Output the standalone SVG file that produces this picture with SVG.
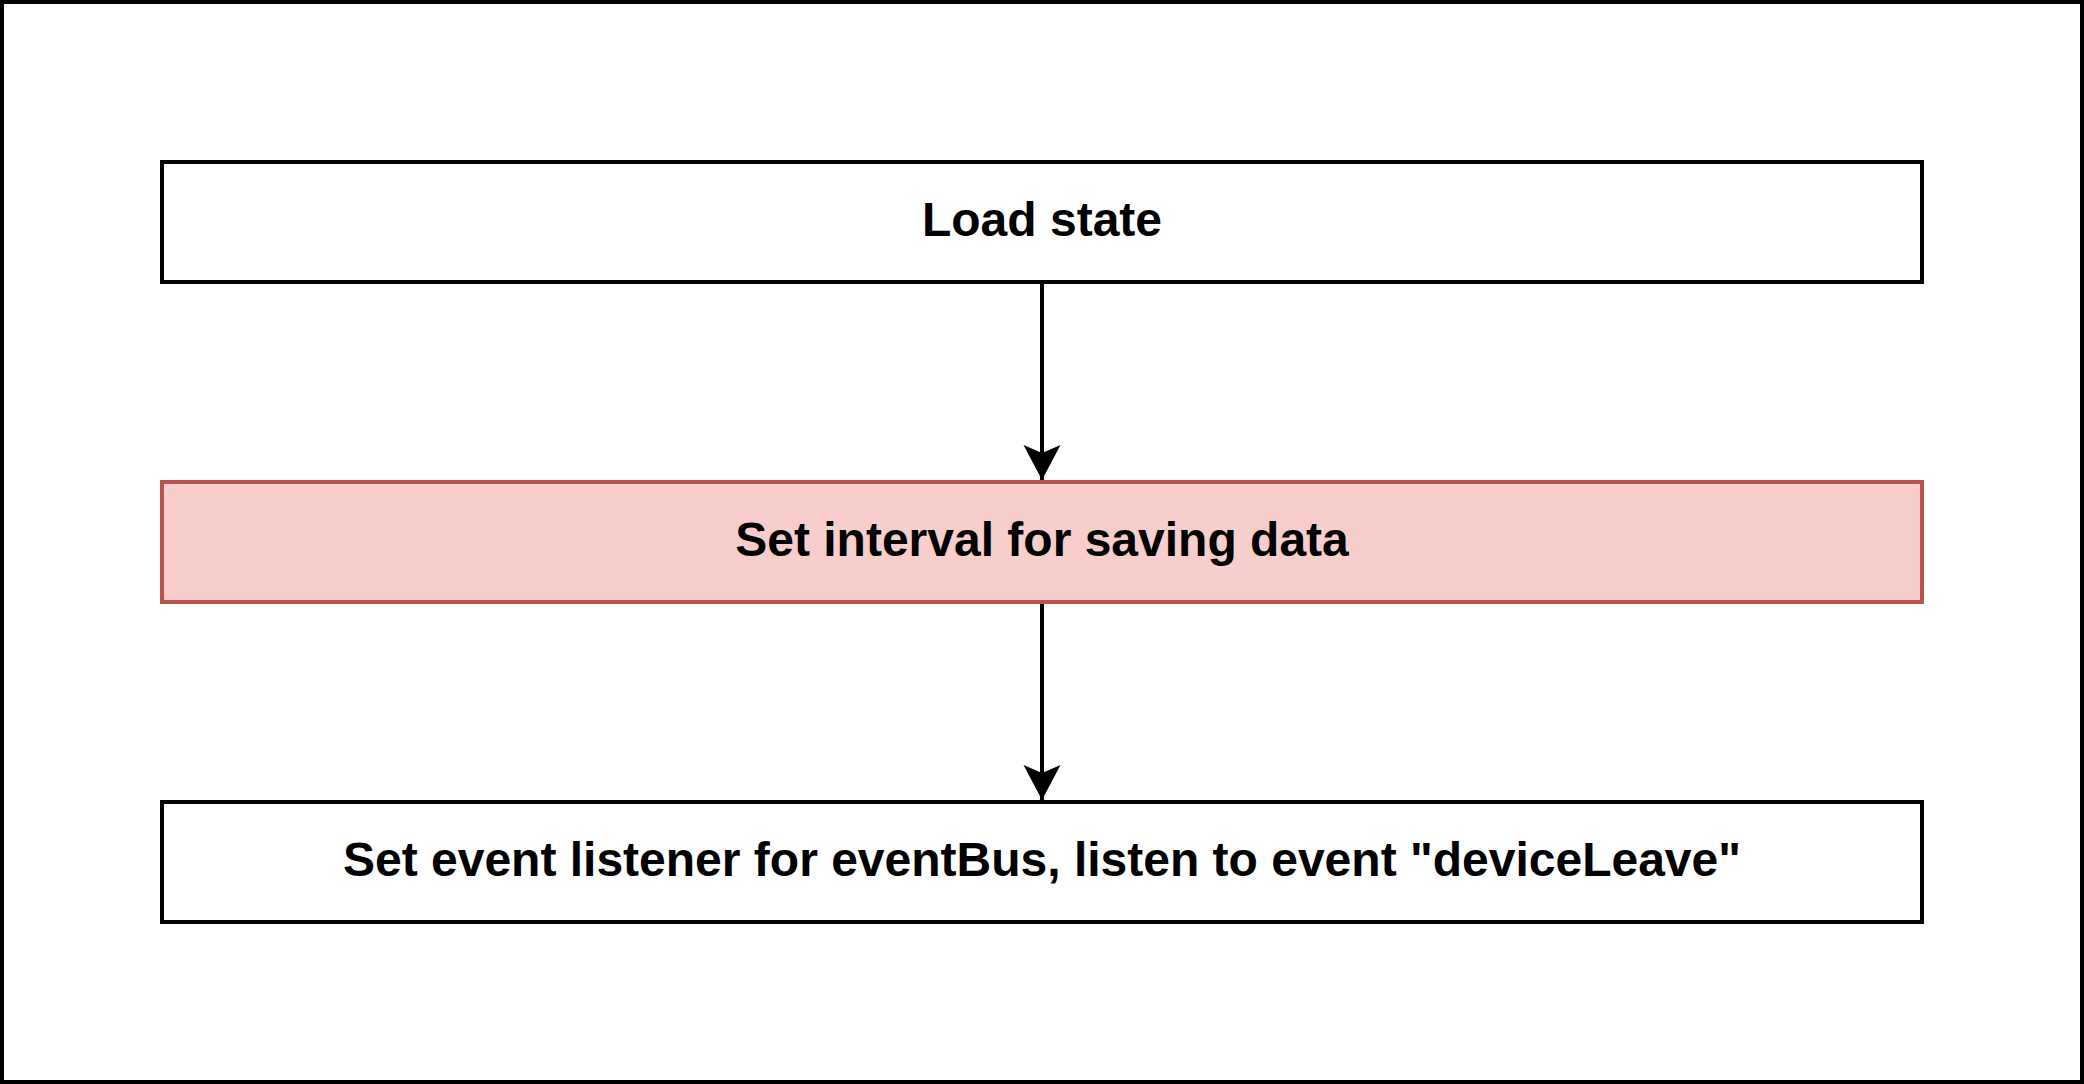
<svg xmlns="http://www.w3.org/2000/svg" width="2084" height="1084" viewBox="0 0 2084 1084">
<defs>
<style>
.box{fill:#ffffff;stroke:#000000;stroke-width:4}
.pink{fill:#f8cecc;stroke:#b85450;stroke-width:4}
.lbl{font-family:"Liberation Sans",Arial,sans-serif;font-weight:bold;font-size:48px;fill:#000000;text-anchor:middle}
.edge{stroke:#000000;stroke-width:4;fill:none}
</style>
<marker id="arr" markerUnits="userSpaceOnUse" markerWidth="40" markerHeight="40" viewBox="0 0 40 40" refX="36" refY="20" orient="auto">
<path d="M36,20 L1,1.5 L9,20 L1,38.5 Z" fill="#000000"/>
</marker>
</defs>
<rect x="2" y="2" width="2080" height="1080" fill="#ffffff" stroke="#000000" stroke-width="4"/>
<g id="connectors">
<line class="edge" x1="1042" y1="282" x2="1042" y2="480" marker-end="url(#arr)"/>
<line class="edge" x1="1042" y1="602" x2="1042" y2="800" marker-end="url(#arr)"/>
</g>
<g id="node-load">
<rect class="box" x="162" y="162" width="1760" height="120"/>
<text class="lbl" x="1042" y="236">Load state</text>
</g>
<g id="node-interval">
<rect class="pink" x="162" y="482" width="1760" height="120"/>
<text class="lbl" x="1042" y="556">Set interval for saving data</text>
</g>
<g id="node-listener">
<rect class="box" x="162" y="802" width="1760" height="120"/>
<text class="lbl" x="1042" y="876">Set event listener for eventBus, listen to event "deviceLeave"</text>
</g>
</svg>
